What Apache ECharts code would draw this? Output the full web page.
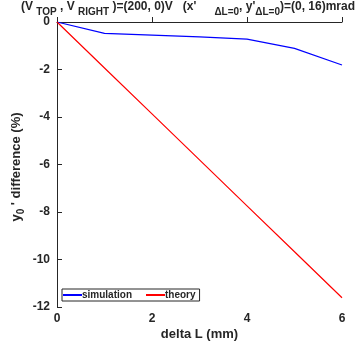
<!DOCTYPE html>
<html><head><meta charset="utf-8">
<script src="https://cdn.jsdelivr.net/npm/echarts@6/dist/echarts.min.js"></script>
<style>html,body{margin:0;padding:0;background:#fff}#c{width:356px;height:347px}</style>
</head><body><div id="c"></div>
<script>
var deltaL = [0, 1, 2, 3, 4, 5, 6];
var simulation = [0, -0.48, -0.55, -0.63, -0.72, -1.11, -1.81];
var theory = [0, -1.935, -3.87, -5.805, -7.74, -9.675, -11.61];
var xTicks = [0, 2, 4, 6];
var yTicks = [0, -2, -4, -6, -8, -10, -12];

var chart = echarts.init(document.getElementById('c'));
var ax = '#262626';
var font = 'Liberation Sans';
chart.setOption({
  animation: false,
  title: {
    left: 21, top: -4, padding: 0,
    text: '(V {s|TOP} , V {s|RIGHT} )=(200, 0)V   (x\'{g|}{s|ΔL=0}, y\'{s|ΔL=0})=(0, 16)mrad',
    textStyle: {
      fontFamily: font, fontWeight: 'bold', fontSize: 12, color: ax,
      rich: {
        s: {fontFamily: font, fontWeight: 'bold', fontSize: 10, color: ax, padding: [11, 0, 0, 0]},
        g: {width: 18}
      }
    }
  },
  grid: {left: 57, right: 14, top: 22, bottom: 40, outerBoundsMode: 'none', containLabel: false},
  legend: {
    left: 62, top: 289, orient: 'horizontal',
    borderColor: ax, borderWidth: 1, padding: [1, 4, 1, 1],
    backgroundColor: '#fff',
    itemWidth: 19, itemHeight: 2, itemGap: 14,
    icon: 'rect',
    textStyle: {fontFamily: font, fontWeight: 'bold', fontSize: 10, color: ax, padding: [0, 0, 0, -5]},
    data: ['simulation', 'theory']
  },
  xAxis: {
    type: 'value', min: 0, max: 6, interval: 2,
    name: 'delta L (mm)', nameLocation: 'middle', nameGap: 21, nameMoveOverlap: false,
    nameTextStyle: {fontFamily: font, fontWeight: 'bold', fontSize: 13, color: ax, verticalAlign: 'top'},
    axisLine: {show: true, lineStyle: {color: ax, width: 1}},
    axisTick: {show: true, inside: true, length: 5, lineStyle: {color: ax}},
    axisLabel: {fontFamily: font, fontWeight: 'bold', fontSize: 12, color: ax, margin: 6,
      formatter: function (v) { return xTicks.indexOf(v) >= 0 ? String(v) : ''; }},
    splitLine: {show: false}
  },
  yAxis: {
    type: 'value', min: -12, max: 0, interval: 2,
    name: 'y{s|0} \' difference (%)', nameLocation: 'middle', nameGap: 31, nameRotate: 90, nameMoveOverlap: false,
    nameTextStyle: {fontFamily: font, fontWeight: 'bold', fontSize: 13, color: ax, padding: [0, 5, 0, 0],
      rich: {s: {fontFamily: font, fontWeight: 'bold', fontSize: 10, color: ax, padding: [9, 0, 0, 0]}}},
    axisLine: {show: true, lineStyle: {color: ax, width: 1}},
    axisTick: {show: true, inside: true, length: 5, lineStyle: {color: ax}},
    axisLabel: {fontFamily: font, fontWeight: 'bold', fontSize: 12, color: ax, margin: 7,
      formatter: function (v) { return yTicks.indexOf(v) >= 0 ? String(v) : ''; }},
    splitLine: {show: false}
  },
  series: [
    {name: 'simulation', type: 'line', data: deltaL.map(function (x, i) { return [x, simulation[i]]; }),
      showSymbol: false, symbol: 'none', lineStyle: {color: '#0000ff', width: 1.2}, itemStyle: {color: '#0000ff'}},
    {name: 'theory', type: 'line', data: deltaL.map(function (x, i) { return [x, theory[i]]; }),
      showSymbol: false, symbol: 'none', lineStyle: {color: '#ff0000', width: 1.2}, itemStyle: {color: '#ff0000'}}
  ]
});
</script></body></html>
